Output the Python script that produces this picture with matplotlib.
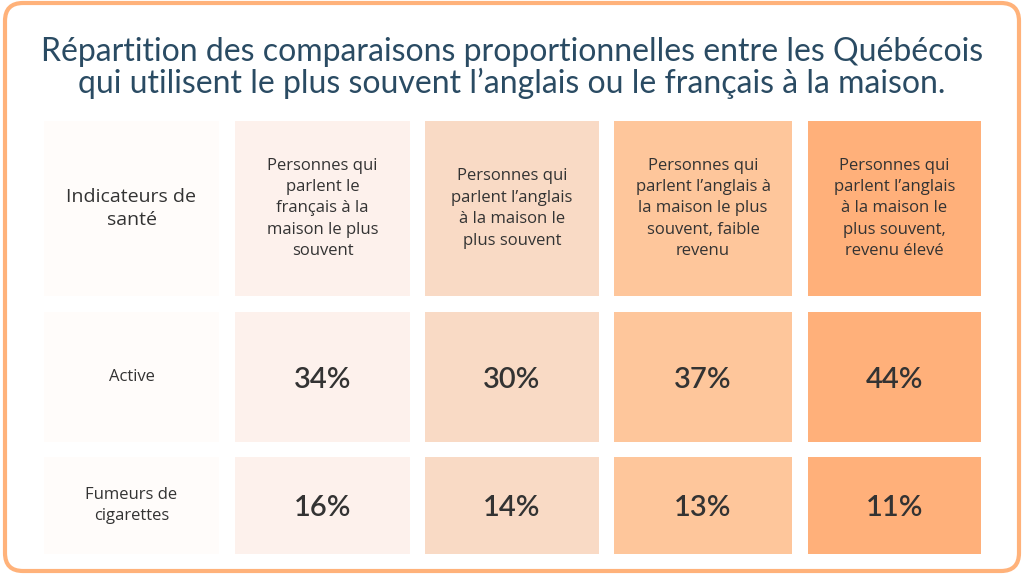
import matplotlib.pyplot as plt
from matplotlib.patches import FancyBboxPatch, Rectangle

# data
title = ("Répartition des comparaisons proportionnelles entre les Québécois\n"
         "qui utilisent le plus souvent l\u2019anglais ou le français à la maison.")
corner_label = "Indicateurs de\nsanté"
groups = [
    "Personnes qui\nparlent le\nfrançais à la\nmaison le plus\nsouvent",
    "Personnes qui\nparlent l\u2019anglais\nà la maison le\nplus souvent",
    "Personnes qui\nparlent l\u2019anglais à\nla maison le plus\nsouvent, faible\nrevenu",
    "Personnes qui\nparlent l\u2019anglais\nà la maison le\nplus souvent,\nrevenu élevé",
]
indicators = ["Active", "Fumeurs de\ncigarettes"]
active = [34, 30, 37, 44]
smokers = [16, 14, 13, 11]

# layout (pixels)
col_x = [(44, 219), (235, 410), (425, 599), (614, 792), (808, 981)]
row_y = [(121, 296), (312, 442), (457, 554)]
col_colors = ["#FFFCFA", "#FDF1EC", "#F9DAC5", "#FEC69B", "#FFB07A"]
text_color = "#333333"
title_color = "#2A4B63"

fig = plt.figure(figsize=(10.24, 5.76), dpi=100)
ax = fig.add_axes([0, 0, 1, 1])
ax.set_xlim(0, 1024)
ax.set_ylim(576, 0)
ax.axis("off")

frame = FancyBboxPatch((5, 3), 1014, 568, boxstyle="round,pad=0,rounding_size=18",
                       facecolor="white", edgecolor="#FFB27A", linewidth=3)
ax.add_patch(frame)

ax.text(512, 68, title, ha="center", va="center", fontsize=23,
        color=title_color, family="Lato", linespacing=1.05)

rows = [active, smokers]
for c, (x0, x1) in enumerate(col_x):
    for r, (y0, y1) in enumerate(row_y):
        ax.add_patch(Rectangle((x0, y0), x1 - x0, y1 - y0,
                               facecolor=col_colors[c], edgecolor="none"))
        cx, cy = (x0 + x1) / 2, (y0 + y1) / 2
        if r == 0:
            label = corner_label if c == 0 else groups[c - 1]
            fs = 14 if c == 0 else 12
            ax.text(cx, cy, label, ha="center", va="center", fontsize=fs,
                    color=text_color, family="Open Sans",
                    linespacing=1.35 if c == 0 else 1.45)
        elif c == 0:
            ax.text(cx, cy, indicators[r - 1], ha="center", va="center",
                    fontsize=12, color=text_color, family="Open Sans",
                    linespacing=1.4)
        else:
            ax.text(cx, cy + 3, f"{rows[r - 1][c - 1]}%", ha="center",
                    va="center", fontsize=21, fontweight="semibold",
                    color=text_color, family="Lato")

fig.savefig("out.png", dpi=100)
